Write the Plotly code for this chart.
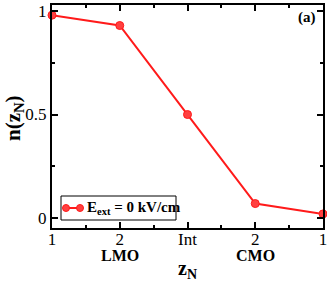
import plotly.graph_objects as go

x_pos = [0, 1, 2, 3, 4]
tick_labels = ["1", "2", "Int", "2", "1"]
n_values = [0.98, 0.93, 0.50, 0.07, 0.02]
series_name = "E<sub>ext</sub> = 0 kV/cm"

font = "Liberation Serif"
RED = "#ff1a1a"

fig = go.Figure()
fig.add_trace(go.Scatter(
    x=x_pos, y=n_values, mode="lines+markers", name=series_name,
    line=dict(color=RED, width=2),
    marker=dict(color="#ff4040", size=8, line=dict(color=RED, width=1)),
    cliponaxis=False, showlegend=False,
))

axis_common = dict(
    showline=True, linecolor="black", linewidth=2, mirror="ticks",
    ticks="inside", ticklen=6, tickcolor="black", tickwidth=1.5,
    showgrid=False, zeroline=False, automargin=False,
    ticklabeloverflow="allow",
    tickfont=dict(family=font, size=17, color="black"),
)

fig.update_xaxes(
    range=[0, 4], tickvals=x_pos, ticktext=tick_labels,
    minor=dict(ticks="inside", ticklen=3, tickcolor="black", dtick=0.5, tick0=0),
    ticklabelstandoff=-5,
    **axis_common,
)
fig.update_yaxes(
    range=[-0.048, 1.029], tickvals=[0, 0.5, 1], ticktext=["0", "0.5", "1"],
    minor=dict(ticks="inside", ticklen=3, tickcolor="black", dtick=0.25, tick0=0),
    **axis_common,
)

# plot area: left 52, right 323, top 5, bottom 228 (px)
def px_x(px):
    return (px - 52) / 271.0

def px_y(py):
    return (228 - py) / 223.0

fig.add_annotation(x=1, y=px_y(256), xref="x", yref="paper", text="<b>LMO</b>", showarrow=False,
                   font=dict(family=font, size=16, color="black"), yanchor="middle", borderpad=0)
fig.add_annotation(x=3, y=px_y(256), xref="x", yref="paper", text="<b>CMO</b>", showarrow=False,
                   font=dict(family=font, size=16, color="black"), yanchor="middle", borderpad=0)
fig.add_annotation(x=2, y=px_y(269), xref="x", yref="paper", text="<b>z<sub>N</sub></b>", showarrow=False,
                   font=dict(family=font, size=20, color="black"), yanchor="middle", borderpad=0)
fig.add_annotation(x=px_x(14), y=px_y(118), xref="paper", yref="paper", text="<b>n(z<sub>N</sub>)</b>",
                   showarrow=False, textangle=-90,
                   font=dict(family=font, size=21, color="black"), xanchor="center", yanchor="middle")
fig.add_annotation(x=px_x(318), y=px_y(18), xref="paper", yref="paper", text="<b>(a)</b>", showarrow=False,
                   font=dict(family=font, size=15, color="black"), xanchor="right", yanchor="middle")

# custom legend
fig.add_shape(type="rect", xref="paper", yref="paper",
              x0=px_x(61), x1=px_x(176), y0=px_y(220), y1=px_y(196),
              line=dict(color="black", width=1), fillcolor="white", layer="above")
fig.add_shape(type="line", xref="paper", yref="paper",
              x0=px_x(66), x1=px_x(80), y0=px_y(208), y1=px_y(208),
              line=dict(color=RED, width=2), layer="above")
for cx in (66, 80):
    fig.add_shape(type="circle", xref="paper", yref="paper",
                  x0=px_x(cx - 3.5), x1=px_x(cx + 3.5), y0=px_y(208 + 3.5), y1=px_y(208 - 3.5),
                  line=dict(color=RED, width=1), fillcolor="#ff4040", layer="above")
fig.add_annotation(x=px_x(85), y=px_y(208), xref="paper", yref="paper", text="<b>" + series_name + "</b>",
                   showarrow=False, xanchor="left", yanchor="middle",
                   font=dict(family=font, size=15, color="black"))

fig.update_layout(
    width=327, height=283,
    margin=dict(l=52, r=4, t=5, b=55),
    paper_bgcolor="white", plot_bgcolor="white",
    showlegend=False,
)

fig.write_html("out.html", config={"displayModeBar": False},
               post_script="document.body.style.margin='0';document.body.style.overflow='hidden';")
